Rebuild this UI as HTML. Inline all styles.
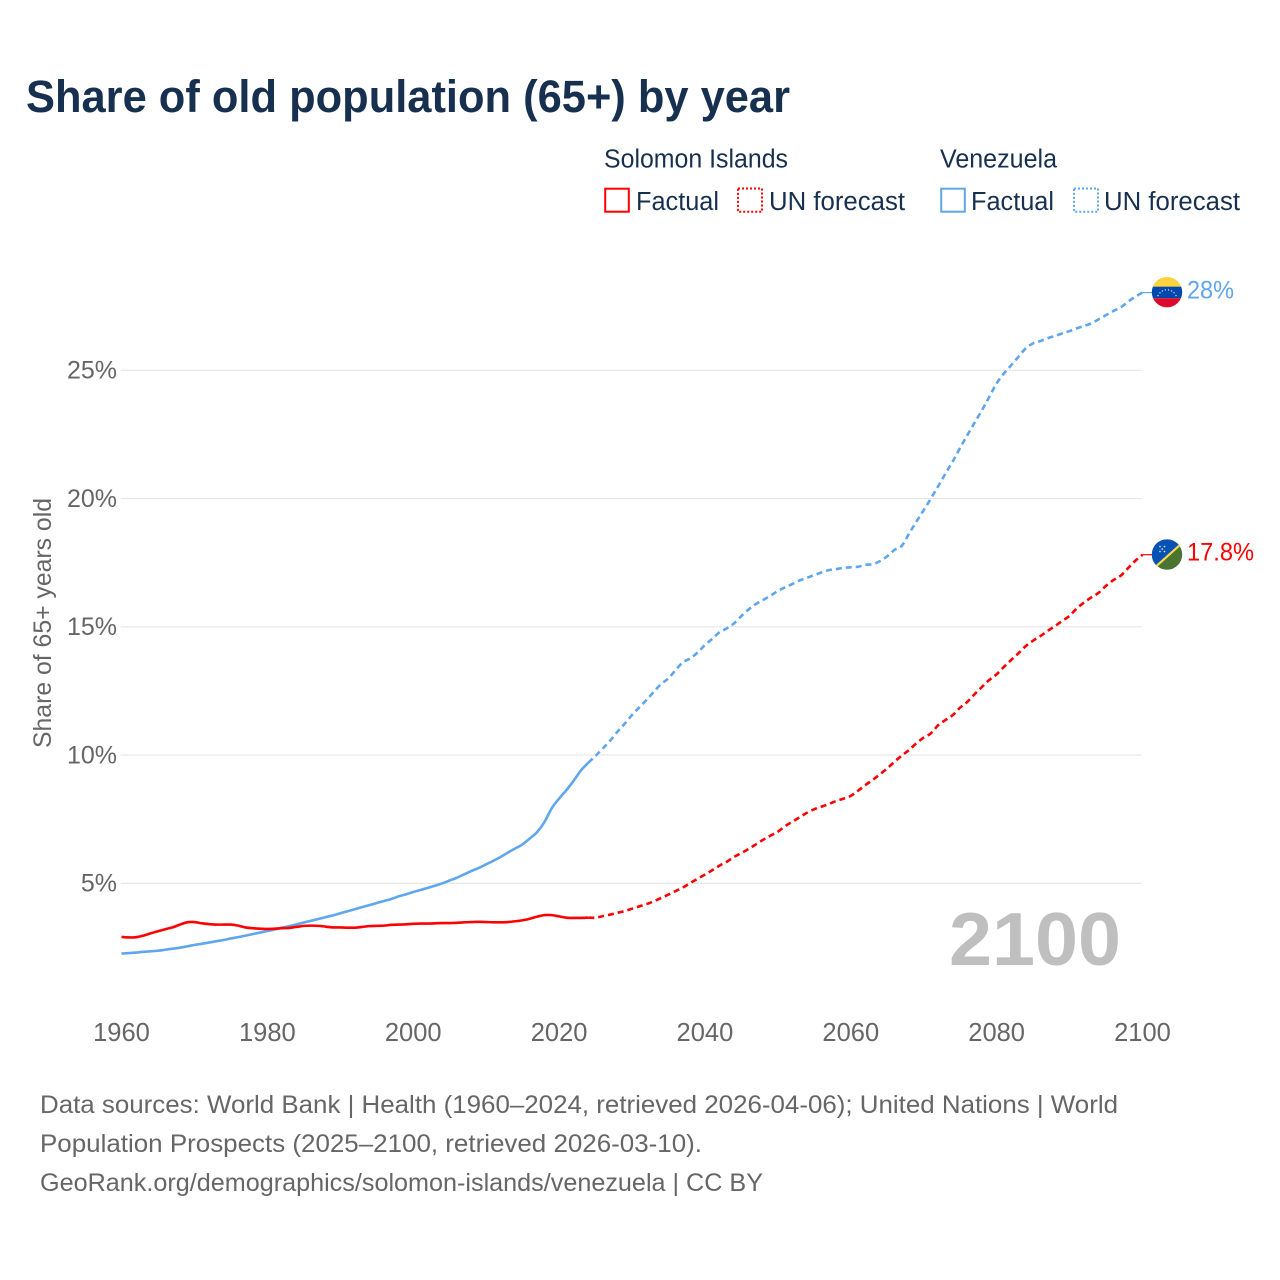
<!DOCTYPE html>
<html lang="en">
<head>
<meta charset="utf-8">
<title>Share of old population (65+) by year</title>
<style>
  html, body { margin: 0; padding: 0; background: #fff; }
  svg { display: block; font-family: "Liberation Sans", sans-serif; }
</style>
</head>
<body>
<svg id="chart" xmlns="http://www.w3.org/2000/svg" width="1280" height="1280" viewBox="0 0 1280 1280">
  <rect x="0" y="0" width="1280" height="1280" fill="#ffffff"/>
  <text x="26" y="112" font-size="45" font-weight="700" fill="#17304f" textLength="764" lengthAdjust="spacingAndGlyphs">Share of old population (65+) by year</text>

  <g fill="#17304f" font-size="25.5">
    <text x="604" y="167.5" textLength="184" lengthAdjust="spacingAndGlyphs">Solomon Islands</text>
    <rect x="605.2" y="188.7" width="23.6" height="23" fill="none" stroke="#ff0000" stroke-width="2"/>
    <text x="636" y="210" textLength="83" lengthAdjust="spacingAndGlyphs">Factual</text>
    <rect x="738" y="188.5" width="24" height="23.2" fill="none" stroke="#ff0000" stroke-width="2" stroke-dasharray="2,2"/>
    <text x="769" y="210" textLength="136" lengthAdjust="spacingAndGlyphs">UN forecast</text>

    <text x="940" y="167.5" textLength="117" lengthAdjust="spacingAndGlyphs">Venezuela</text>
    <rect x="941.2" y="188.7" width="23.6" height="23" fill="none" stroke="#5fa6ec" stroke-width="2"/>
    <text x="971" y="210" textLength="83" lengthAdjust="spacingAndGlyphs">Factual</text>
    <rect x="1074" y="188.5" width="24" height="23.2" fill="none" stroke="#5fa6ec" stroke-width="2" stroke-dasharray="2,2"/>
    <text x="1104" y="210" textLength="136" lengthAdjust="spacingAndGlyphs">UN forecast</text>
  </g>

  <text transform="translate(51,748) rotate(-90)" font-size="25" fill="#666666" textLength="250" lengthAdjust="spacingAndGlyphs">Share of 65+ years old</text>

  <g id="grid"></g>
  <g id="yticks" fill="#666666" font-size="25" text-anchor="end"></g>
  <g id="xticks" fill="#666666" font-size="25.5" text-anchor="middle"></g>

  <text x="949" y="965" font-size="75" font-weight="700" fill="#bfbfbf" textLength="172" lengthAdjust="spacingAndGlyphs">2100</text>

  <g id="series"></g>

  <g id="flag-venezuela">
    <clipPath id="clip-ve"><circle cx="0" cy="0" r="15.2"/></clipPath>
    <g clip-path="url(#clip-ve)">
      <rect x="-16" y="-16" width="32" height="11" fill="#fcd33f"/>
      <rect x="-16" y="-5.5" width="32" height="11.5" fill="#0048ad"/>
      <rect x="-16" y="6" width="32" height="10" fill="#dc0a2d"/>
      <g fill="#ffffff" fill-opacity="0.8">
        <circle cx="-9" cy="3.4" r="0.7"/><circle cx="-7" cy="0.6" r="0.7"/><circle cx="-4.6" cy="-1.2" r="0.7"/><circle cx="-1.6" cy="-2.2" r="0.7"/><circle cx="1.6" cy="-2.2" r="0.7"/><circle cx="4.6" cy="-1.2" r="0.7"/><circle cx="7" cy="0.6" r="0.7"/><circle cx="9" cy="3.4" r="0.7"/>
      </g>
    </g>
  </g>
  <g id="flag-solomon">
    <clipPath id="clip-sb"><circle cx="0" cy="0" r="15.2"/></clipPath>
    <g clip-path="url(#clip-sb)">
      <rect x="-16" y="-16" width="32" height="32" fill="#4a7431"/>
      <polygon points="-16,16.5 16,-12.5 16,-16 -16,-16" fill="#0651b5"/>
      <line x1="-14" y1="14.5" x2="14" y2="-10.5" stroke="#fcd84a" stroke-width="2.2"/>
      <g fill="#ffffff" fill-opacity="0.85">
        <circle cx="-7" cy="-8" r="0.85"/><circle cx="-2.5" cy="-8" r="0.85"/><circle cx="-4.8" cy="-5.5" r="0.85"/><circle cx="-7" cy="-3" r="0.85"/><circle cx="-2.5" cy="-3" r="0.85"/>
      </g>
    </g>
  </g>

  <text id="label-venezuela" x="1187" font-size="25" fill="#5fa6ec" textLength="47" lengthAdjust="spacingAndGlyphs">28%</text>
  <text id="label-solomon" x="1187" font-size="25" fill="#ff0000" textLength="67" lengthAdjust="spacingAndGlyphs">17.8%</text>

  <g fill="#666666" font-size="25">
    <text x="40" y="1113" textLength="1078" lengthAdjust="spacingAndGlyphs">Data sources: World Bank | Health (1960–2024, retrieved 2026-04-06); United Nations | World</text>
    <text x="40" y="1152" textLength="662" lengthAdjust="spacingAndGlyphs">Population Prospects (2025–2100, retrieved 2026-03-10).</text>
    <text x="40" y="1191" textLength="723" lengthAdjust="spacingAndGlyphs">GeoRank.org/demographics/solomon-islands/venezuela | CC BY</text>
  </g>
</svg>

<script>
const firstYear = 1960;
const forecastFirstYear = 2025;
const xTickYears = [1960, 1980, 2000, 2020, 2040, 2060, 2080, 2100];
const yTickValues = [5, 10, 15, 20, 25];
const yTickLabels = ["5%", "10%", "15%", "20%", "25%"];

const solomonFactual = [
  2.91, 2.89, 2.90, 2.96, 3.05, 3.13, 3.21, 3.28, 3.39, 3.48,
  3.49, 3.44, 3.41, 3.39, 3.39, 3.39, 3.35, 3.28, 3.25, 3.23,
  3.22, 3.23, 3.25, 3.26, 3.30, 3.34, 3.35, 3.34, 3.31, 3.28,
  3.28, 3.27, 3.27, 3.30, 3.33, 3.34, 3.35, 3.38, 3.39, 3.40,
  3.42, 3.43, 3.43, 3.44, 3.45, 3.45, 3.46, 3.48, 3.49, 3.50,
  3.49, 3.48, 3.48, 3.49, 3.52, 3.56, 3.62, 3.70, 3.76, 3.76,
  3.71, 3.66, 3.65, 3.65, 3.66
];
const solomonForecast = [
  3.66, 3.72, 3.78, 3.85, 3.92, 4.01, 4.10, 4.19, 4.30, 4.43,
  4.56, 4.70, 4.84, 5.01, 5.18, 5.34, 5.51, 5.69, 5.84, 6.03,
  6.18, 6.34, 6.52, 6.70, 6.86, 7.01, 7.23, 7.40, 7.58, 7.75,
  7.89, 7.99, 8.09, 8.21, 8.30, 8.41, 8.61, 8.83, 9.03, 9.25,
  9.48, 9.74, 9.98, 10.20, 10.46, 10.68, 10.85, 11.17, 11.37, 11.56,
  11.85, 12.08, 12.38, 12.66, 12.93, 13.15, 13.44, 13.71, 13.97, 14.25,
  14.46, 14.64, 14.84, 15.03, 15.23, 15.43, 15.72, 15.95, 16.15, 16.33,
  16.60, 16.82, 16.99, 17.28, 17.57, 17.81
];
const venezuelaFactual = [
  2.26, 2.28, 2.30, 2.33, 2.35, 2.37, 2.41, 2.45, 2.49, 2.54,
  2.60, 2.64, 2.69, 2.74, 2.79, 2.85, 2.90, 2.96, 3.02, 3.08,
  3.14, 3.20, 3.27, 3.33, 3.40, 3.47, 3.54, 3.61, 3.68, 3.75,
  3.83, 3.91, 3.99, 4.07, 4.15, 4.23, 4.31, 4.39, 4.49, 4.57,
  4.66, 4.74, 4.82, 4.91, 5.00, 5.11, 5.22, 5.35, 5.48, 5.60,
  5.74, 5.88, 6.03, 6.20, 6.36, 6.52, 6.75, 7.00, 7.39, 7.93,
  8.30, 8.63, 9.00, 9.40, 9.70
];
const venezuelaForecast = [
  9.97, 10.26, 10.56, 10.91, 11.22, 11.56, 11.86, 12.15, 12.47, 12.77,
  12.99, 13.32, 13.62, 13.77, 14.00, 14.29, 14.53, 14.79, 14.94, 15.14,
  15.42, 15.68, 15.89, 16.05, 16.21, 16.40, 16.54, 16.67, 16.81, 16.91,
  17.02, 17.12, 17.21, 17.25, 17.30, 17.32, 17.34, 17.42, 17.44, 17.56,
  17.75, 18.00, 18.16, 18.64, 19.10, 19.55, 20.01, 20.49, 20.98, 21.46,
  21.98, 22.48, 22.97, 23.45, 23.97, 24.49, 24.88, 25.20, 25.53, 25.86,
  26.05, 26.14, 26.25, 26.34, 26.44, 26.53, 26.64, 26.73, 26.83, 26.99,
  27.15, 27.31, 27.45, 27.67, 27.87, 28.03
];

const NS = "http://www.w3.org/2000/svg";
const xScale = year => 121.5 + (year - 1960) * (1142.5 - 121.5) / 140;
const yScale = value => 883.3 - (value - 5) * 25.65;

function makePath(startYear, values, prev) {
  const pts = [];
  if (prev) pts.push([xScale(prev[0]), yScale(prev[1])]);
  values.forEach((v, i) => pts.push([xScale(startYear + i), yScale(v)]));
  let d = "M" + pts[0][0].toFixed(2) + "," + pts[0][1].toFixed(2);
  for (let i = 0; i < pts.length - 1; i++) {
    const p0 = pts[Math.max(i - 1, 0)];
    const p1 = pts[i];
    const p2 = pts[i + 1];
    const p3 = pts[Math.min(i + 2, pts.length - 1)];
    const c1x = p1[0] + (p2[0] - p0[0]) / 6;
    const c1y = p1[1] + (p2[1] - p0[1]) / 6;
    const c2x = p2[0] - (p3[0] - p1[0]) / 6;
    const c2y = p2[1] - (p3[1] - p1[1]) / 6;
    d += "C" + c1x.toFixed(2) + "," + c1y.toFixed(2) + " " + c2x.toFixed(2) + "," + c2y.toFixed(2) + " " + p2[0].toFixed(2) + "," + p2[1].toFixed(2);
  }
  return d;
}

const gridGroup = document.getElementById("grid");
const yTickGroup = document.getElementById("yticks");
yTickValues.forEach((v, i) => {
  const line = document.createElementNS(NS, "line");
  
  
  line.setAttribute("x1", 120.7);
  line.setAttribute("x2", 1141.5);
  line.setAttribute("y1", yScale(v));
  line.setAttribute("y2", yScale(v));
  line.setAttribute("stroke", "#e6e6e6");
  line.setAttribute("stroke-width", 1.1);
  gridGroup.appendChild(line);

  const t = document.createElementNS(NS, "text");
  
  
  t.setAttribute("x", 117);
  t.setAttribute("y", yScale(v) + 8.3);
  t.textContent = yTickLabels[i];
  yTickGroup.appendChild(t);
});

const xTickGroup = document.getElementById("xticks");
xTickYears.forEach(year => {
  const t = document.createElementNS(NS, "text");
  
  
  t.setAttribute("x", xScale(year));
  t.setAttribute("y", 1041);
  t.textContent = String(year);
  xTickGroup.appendChild(t);
});

const seriesGroup = document.getElementById("series");

const vf = document.createElementNS(NS, "path");


vf.setAttribute("d", makePath(firstYear, venezuelaFactual));
vf.setAttribute("fill", "none");
vf.setAttribute("stroke", "#5fa6ec");
vf.setAttribute("stroke-width", 2.6);
vf.setAttribute("stroke-linejoin", "round");
seriesGroup.appendChild(vf);

const vp = document.createElementNS(NS, "path");


vp.setAttribute("d", makePath(forecastFirstYear, venezuelaForecast, [forecastFirstYear - 1, venezuelaFactual[venezuelaFactual.length - 1]]));
vp.setAttribute("fill", "none");
vp.setAttribute("stroke", "#5fa6ec");
vp.setAttribute("stroke-width", 2.6);
vp.setAttribute("stroke-dasharray", "6,4");
vp.setAttribute("stroke-linejoin", "round");
seriesGroup.appendChild(vp);

const sf = document.createElementNS(NS, "path");


sf.setAttribute("d", makePath(firstYear, solomonFactual));
sf.setAttribute("fill", "none");
sf.setAttribute("stroke", "#ff0000");
sf.setAttribute("stroke-width", 2.6);
sf.setAttribute("stroke-linejoin", "round");
seriesGroup.appendChild(sf);

const sp = document.createElementNS(NS, "path");


sp.setAttribute("d", makePath(forecastFirstYear, solomonForecast, [forecastFirstYear - 1, solomonFactual[solomonFactual.length - 1]]));
sp.setAttribute("fill", "none");
sp.setAttribute("stroke", "#ff0000");
sp.setAttribute("stroke-width", 2.6);
sp.setAttribute("stroke-dasharray", "6,4");
sp.setAttribute("stroke-linejoin", "round");
seriesGroup.appendChild(sp);

const vEnd = venezuelaForecast[venezuelaForecast.length - 1];
const sEnd = solomonForecast[solomonForecast.length - 1];

const vc = document.createElementNS(NS, "line");


vc.setAttribute("x1", xScale(2100));
vc.setAttribute("x2", 1153);
vc.setAttribute("y1", yScale(vEnd));
vc.setAttribute("y2", yScale(vEnd));
vc.setAttribute("stroke", "#5fa6ec");
vc.setAttribute("stroke-width", 1.2);
seriesGroup.appendChild(vc);

const sc = document.createElementNS(NS, "line");


sc.setAttribute("x1", xScale(2100));
sc.setAttribute("x2", 1153);
sc.setAttribute("y1", yScale(sEnd));
sc.setAttribute("y2", yScale(sEnd));
sc.setAttribute("stroke", "#ff0000");
sc.setAttribute("stroke-width", 1.2);
seriesGroup.appendChild(sc);

document.getElementById("flag-venezuela").setAttribute("transform", "translate(1167," + (yScale(vEnd) - 0.4) + ")");
document.getElementById("flag-solomon").setAttribute("transform", "translate(1167," + (yScale(sEnd) - 0.2) + ")");
document.getElementById("label-venezuela").setAttribute("y", yScale(vEnd) + 6);
document.getElementById("label-solomon").setAttribute("y", yScale(sEnd) + 6);
</script>
</body>
</html>
